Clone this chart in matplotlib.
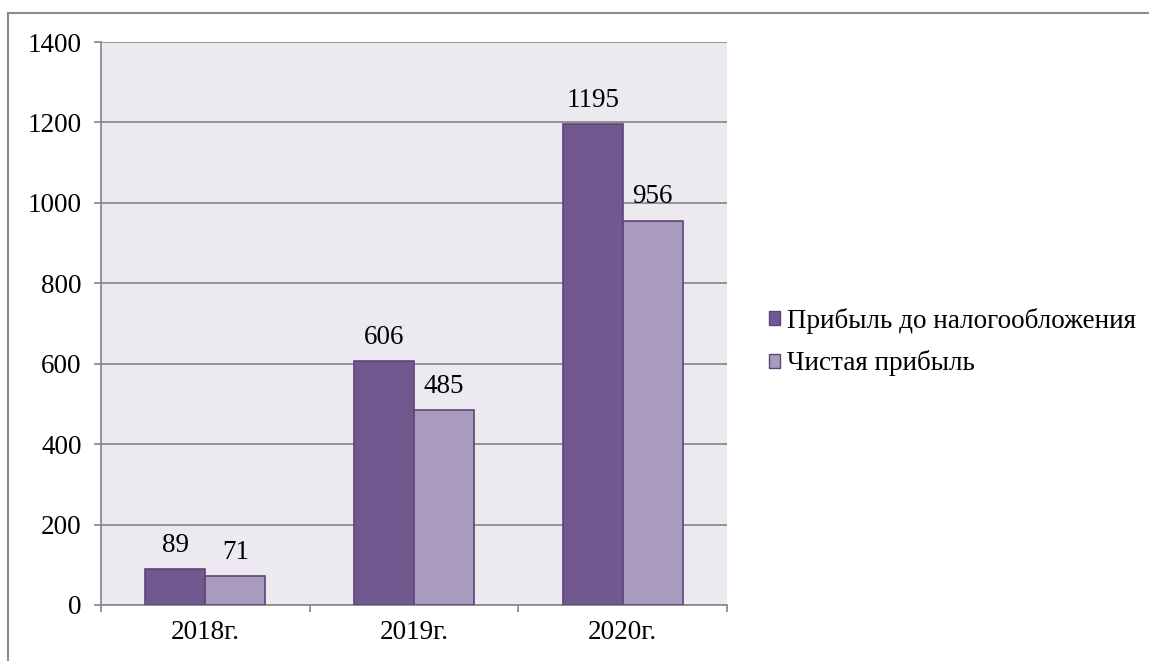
import matplotlib.pyplot as plt
import numpy as np
from matplotlib.patches import Patch
from matplotlib.lines import Line2D

years = ['2018г.', '2019г.', '2020г.']
profit_before_tax = [89, 606, 1195]
net_profit = [71, 485, 956]
series_names = ['Прибыль до налогообложения', 'Чистая прибыль']

dark = '#71588F'
light = '#A99BBD'
edge = '#5C4577'

plt.rcParams['font.family'] = ['Liberation Serif', 'DejaVu Serif']
plt.rcParams['font.size'] = 19.5

fig = plt.figure(figsize=(11.49, 6.61), dpi=100)
ax = fig.add_axes([101/1149, 1 - 605/661, 626/1149, 563/661])
ax.set_facecolor('#ECEAF0')

x = np.arange(len(years))
w = 0.287
b1 = ax.bar(x - w/2, profit_before_tax, w, color=dark, edgecolor=edge, linewidth=1.2, zorder=3)
b2 = ax.bar(x + w/2, net_profit, w, color=light, edgecolor=edge, linewidth=1.2, zorder=3)
ax.bar_label(b1, padding=8)
ax.bar_label(b2, padding=8)

ax.set_xlim(-0.5, 2.5)
ax.set_ylim(0, 1400)
ax.set_yticks(range(0, 1401, 200))
ax.yaxis.grid(True, color='#8C8C8C', linewidth=1.3, zorder=0)
ax.set_axisbelow(True)

ax.set_xticks(x)
ax.set_xticklabels(years)
ax.set_xticks([-0.5, 0.5, 1.5, 2.5], minor=True)
ax.tick_params(axis='x', which='major', length=0, pad=11)
ax.tick_params(axis='x', which='minor', length=5, width=1.3, color='#8C8C8C')
ax.tick_params(axis='y', length=5, width=1.3, color='#8C8C8C', pad=9)

for s in ['top', 'right']:
    ax.spines[s].set_visible(False)
for s in ['left', 'bottom']:
    ax.spines[s].set_color('#8C8C8C')
    ax.spines[s].set_linewidth(1.3)

handles = [Patch(facecolor=dark, edgecolor=edge), Patch(facecolor=light, edgecolor=edge)]
fig.legend(handles, series_names, loc='center left', bbox_to_anchor=(769/1149, 1 - 342/661),
           frameon=False, borderpad=0, borderaxespad=0, handlelength=0.42, handleheight=0.42,
           handletextpad=0.25, labelspacing=0.62)

# outer chart border
fig.add_artist(Line2D([8/1149, 1], [1 - 12.5/661, 1 - 12.5/661], color='#8C8C8C', linewidth=1.5))
fig.add_artist(Line2D([8/1149, 8/1149], [0, 1 - 12.5/661], color='#8C8C8C', linewidth=1.5))

fig.savefig('out.png', dpi=100)
